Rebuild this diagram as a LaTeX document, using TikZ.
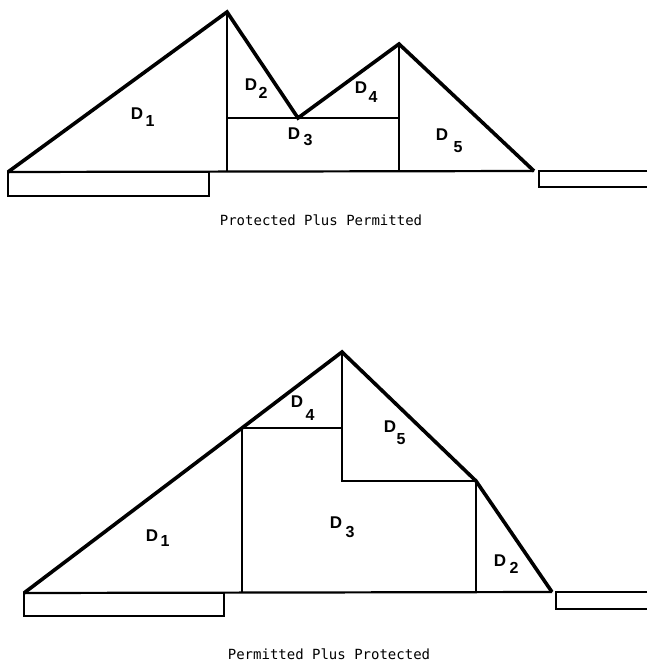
\documentclass[tikz,border=0pt]{standalone}
\usepackage{fontspec}
\setsansfont{Liberation Sans}
\setmonofont{DejaVu Sans Mono}
\usetikzlibrary{positioning}

\begin{document}
\begin{tikzpicture}[
    x=1pt, y=-1pt,
    slope/.style={line width=3.6pt, line join=miter},
    edge/.style={line width=2.2pt},
    area/.style={font=\sffamily\bfseries\fontsize{17}{17}\selectfont, inner sep=0pt},
    idx/.style={font=\sffamily\bfseries\fontsize{16}{16}\selectfont, inner sep=0pt},
    caption/.style={font=\ttfamily\fontsize{14}{14}\selectfont, inner sep=0pt}
]
\useasboundingbox (0,0) rectangle (647,668);

% Protected plus permitted (top)
\coordinate (a) at (8,172);
\coordinate (b) at (227,12);
\coordinate (c) at (298,118);
\coordinate (e) at (399,44);
\coordinate (f) at (534,171);
\coordinate (b0) at (227,172);
\coordinate (b1) at (227,118);
\coordinate (e1) at (399,118);
\coordinate (e0) at (399,172);

\draw[edge] (a) -- (f);
\draw[edge] (b) -- (b0);
\draw[edge] (e) -- (e0);
\draw[edge] (b1) -- (e1);
\draw[slope] (a) -- (b) -- (c) -- (e) -- (f);
\draw[edge] (8,172) rectangle (209,196);
\draw[edge] (647,171) -- (539,171) -- (539,187) -- (647,187);

\foreach \n/\x/\y/\sx/\sy in {1/137/114/150/121, 2/251/85/263/93, 3/294/134/308/140, 4/361/88/373/97, 5/442/135/458/147} {
  \node[area] (pd\n) at (\x,\y) {D};
  \node[idx] (ps\n) at (\sx,\sy) {\n};
}

\node[caption] (pcap) at (321,220) {Protected Plus Permitted};

% Permitted plus protected (bottom)
\coordinate (g) at (24,593);
\coordinate (h) at (242,428);
\coordinate (k) at (342,352);
\coordinate (l) at (476,481);
\coordinate (m) at (552,592);
\coordinate (h0) at (242,592);
\coordinate (k1) at (342,428);
\coordinate (k2) at (342,481);
\coordinate (l0) at (476,592);

\draw[edge] (g) -- (m);
\draw[edge] (h) -- (h0);
\draw[edge] (h) -- (k1);
\draw[edge] (k) -- (k2) -- (l);
\draw[edge] (l) -- (l0);
\draw[slope] (g) -- (h) -- (k) -- (l) -- (m);
\draw[edge] (24,593) rectangle (224,616);
\draw[edge] (647,592) -- (556,592) -- (556,609) -- (647,609);

\foreach \n/\x/\y/\sx/\sy in {1/152/536/165/541, 2/500/561/514/568, 3/336/523/350/532, 4/297/402/310/415, 5/390/427/401/439} {
  \node[area] (qd\n) at (\x,\y) {D};
  \node[idx] (qs\n) at (\sx,\sy) {\n};
}

\node[caption] (qcap) at (329,654) {Permitted Plus Protected};

\end{tikzpicture}
\end{document}
